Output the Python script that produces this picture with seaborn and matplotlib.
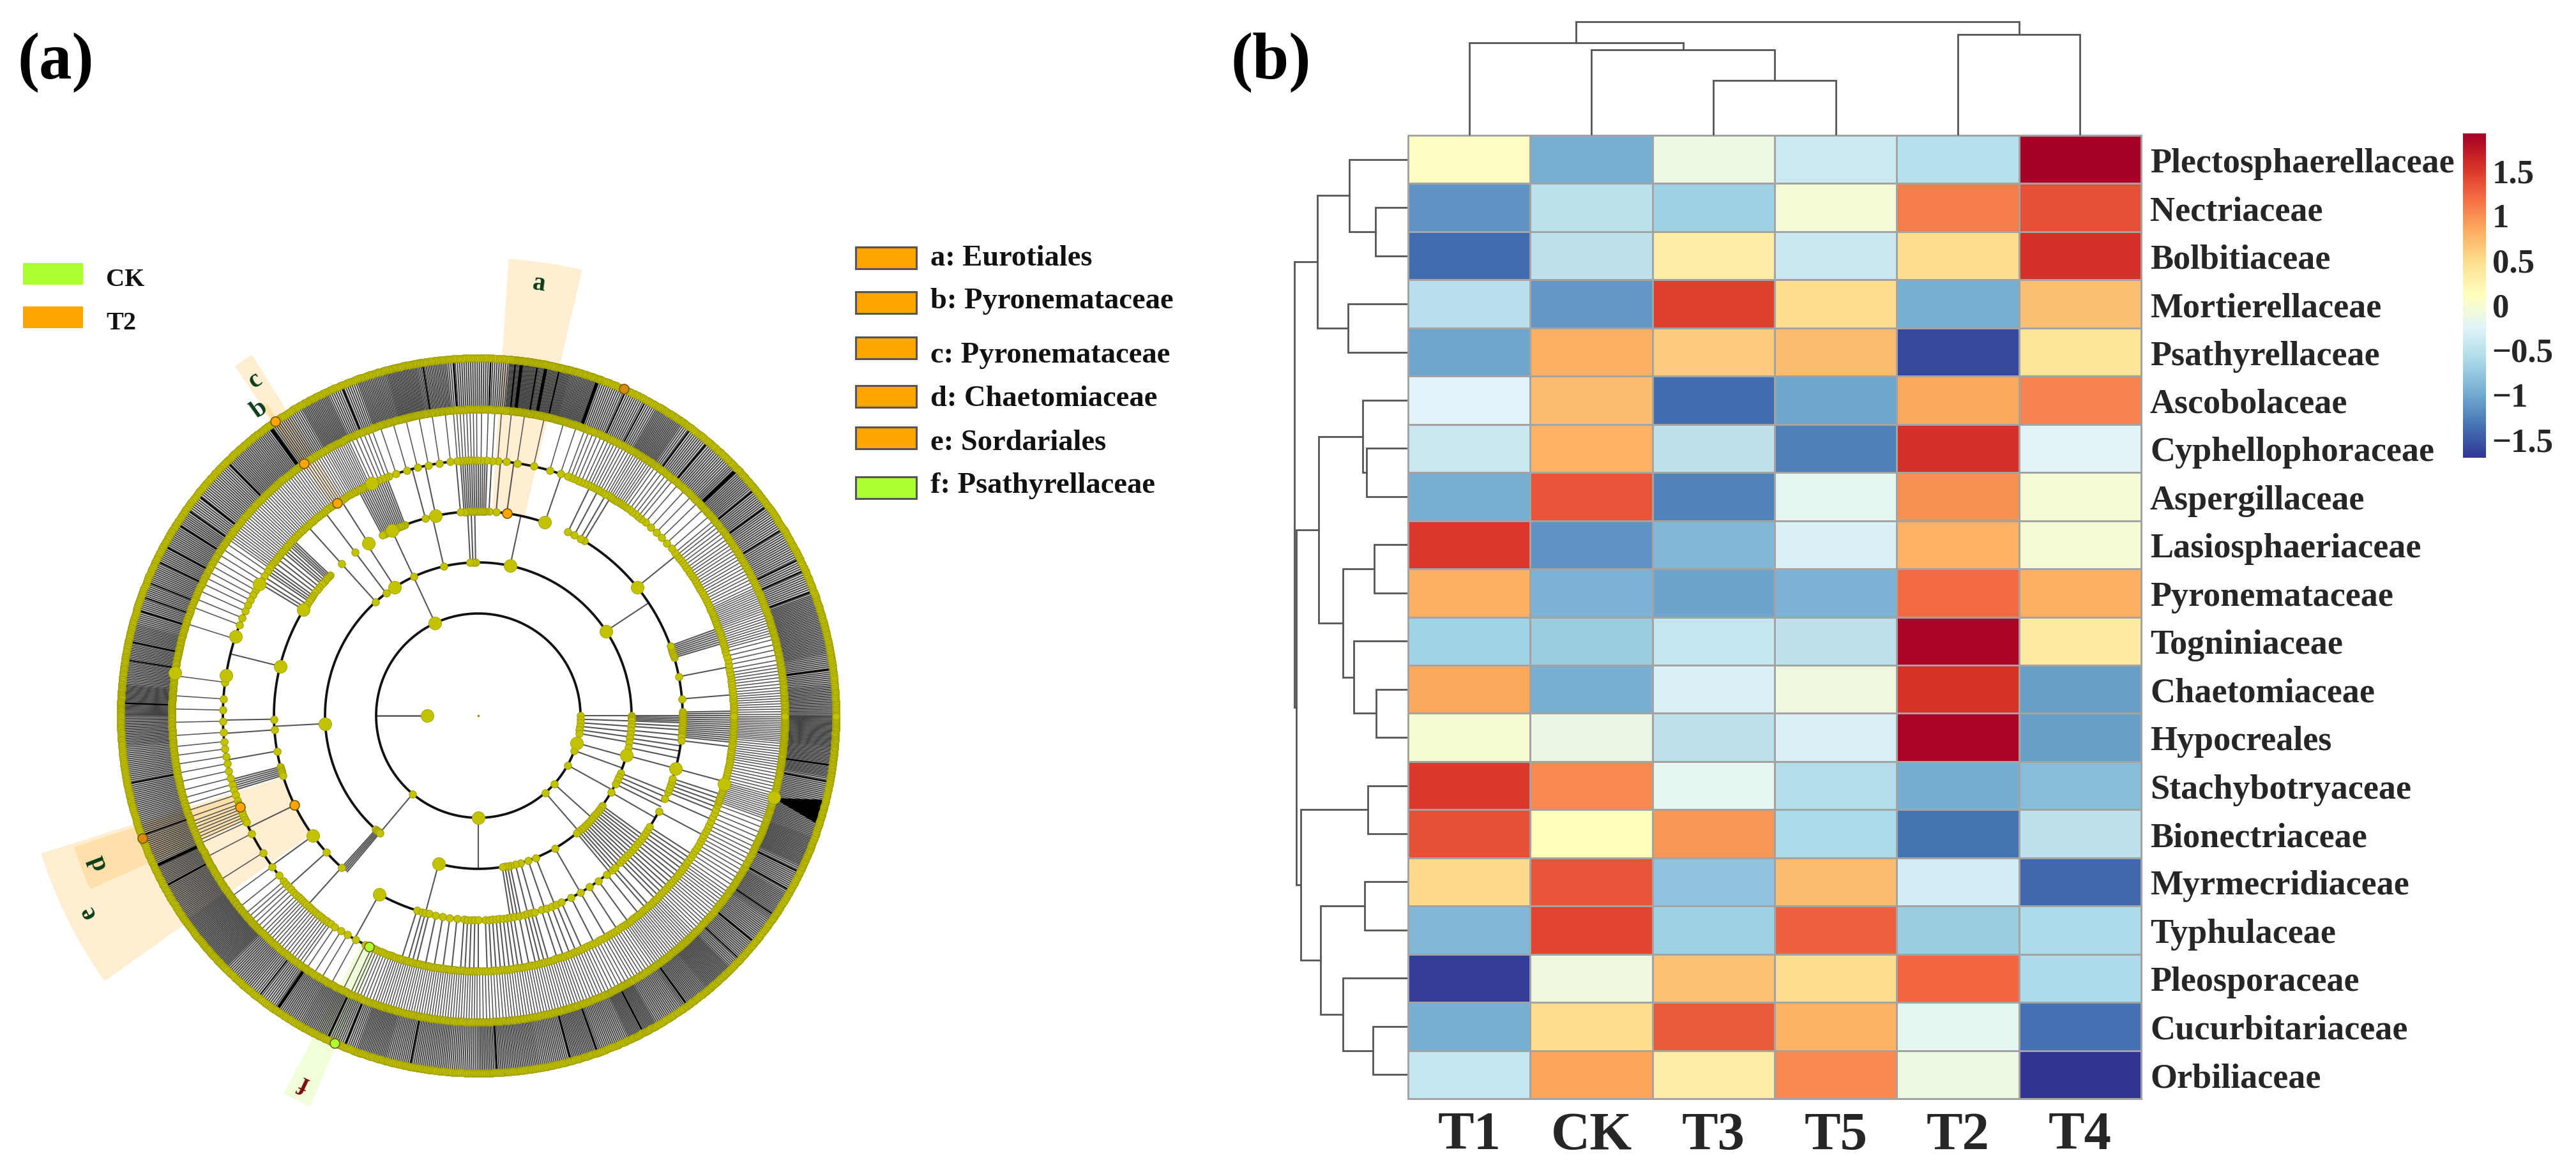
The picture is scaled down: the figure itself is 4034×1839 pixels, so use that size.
import numpy as np
import pandas as pd
import seaborn as sns
import matplotlib
matplotlib.use("Agg")
import matplotlib.pyplot as plt
from matplotlib.patches import Wedge, Rectangle, Polygon

W, H = 4034, 1840

# ---- panel b data
samples = ["T1", "CK", "T3", "T5", "T2", "T4"]
families = ["Plectosphaerellaceae", "Nectriaceae", "Bolbitiaceae", "Mortierellaceae", "Psathyrellaceae",
            "Ascobolaceae", "Cyphellophoraceae", "Aspergillaceae", "Lasiosphaeriaceae", "Pyronemataceae",
            "Togniniaceae", "Chaetomiaceae", "Hypocreales", "Stachybotryaceae", "Bionectriaceae",
            "Myrmecridiaceae", "Typhulaceae", "Pleosporaceae", "Cucurbitariaceae", "Orbiliaceae"]
t1 = [0.08, -1.15, -1.40, -0.53, -1.02, -0.26, -0.42, -0.97, 1.50, 0.82, -0.67, 0.85, 0.00, 1.49, 1.35, 0.50, -0.90, -1.66, -0.97, -0.45]
ck = [-0.97, -0.52, -0.50, -1.13, 0.82, 0.72, 0.80, 1.33, -1.15, -0.93, -0.73, -0.97, -0.13, 1.03, 0.12, 1.33, 1.42, -0.10, 0.47, 0.87]
t3 = [-0.12, -0.68, 0.30, 1.45, 0.62, -1.40, -0.50, -1.25, -0.90, -1.04, -0.45, -0.30, -0.50, -0.20, 0.96, -0.80, -0.68, 0.68, 1.30, 0.30]
t5 = [-0.40, -0.05, -0.42, 0.48, 0.73, -1.02, -1.28, -0.20, -0.30, -0.93, -0.50, -0.10, -0.30, -0.57, -0.62, 0.72, 1.25, 0.47, 0.78, 1.03]
t2 = [-0.55, 1.10, 0.48, -0.97, -1.60, 0.85, 1.55, 0.98, 0.80, 1.20, 1.88, 1.53, 1.88, -0.98, -1.35, -0.35, -0.73, 1.22, -0.20, -0.12]
t4 = [1.90, 1.35, 1.55, 0.70, 0.42, 1.05, -0.25, -0.03, -0.02, 0.82, 0.33, -1.07, -1.07, -0.85, -0.50, -1.42, -0.60, -0.60, -1.36, -1.71]
cbar_ticks = [1.5, 1, 0.5, 0, -0.5, -1, -1.5]
cbar_labels = ["1.5", "1", "0.5", "0", "\u22120.5", "\u22121", "\u22121.5"]

# dendrogram merges: (child, child, height), new ids continue after the leaves
row_merges = [(1, 2, 50), (0, 20, 91), (3, 4, 93), (21, 22, 141), (6, 7, 64), (5, 24, 70), (8, 9, 52),
              (11, 12, 49), (10, 27, 84), (26, 28, 101), (25, 29, 139), (13, 14, 62), (15, 16, 67),
              (18, 19, 54), (17, 33, 101), (32, 34, 136), (31, 35, 167), (30, 36, 174), (23, 37, 177)]
col_merges = [(2, 3, 86), (1, 6, 134), (0, 7, 145), (4, 5, 158), (8, 9, 178)]

# ---- panel a data: node angles (degrees) per ring of the cladogram
ring_160 = [115, 0, -2, -4, -6, -8, -10, -15.5, -20, -29, -42, -49, -90, 230]
ring_240 = [0, -0.5, -1, -1.5, -2, -3, -4, -5.5, -7, -8.5, -10, -12, -15, -22, -23.5, -25, -26.5, -30,
            -36, -37, -38, -39, -40, -41, -42, -43, -44, -45, -46, -47, -48, -49, -50, -60,
            -68, -71, -74, -76, -78, -79, -80, -81, 255, 228, 228.5, 229, 229.5, 230, 183,
            132, 127, 123, 115, 103, 91, 92, 93, 78, 33.5]
ring_320 = [1, 0.5, 0, -0.5, -1, -1.5, -2, -2.5, -3, -3.5, -4, -4.5, -5, -5.5, -6, -7, 4.7, 11,
            16.5, 17, 17.5, 18, 18.5, 19, 19.5, 20, 39, 58.8, 60, 62, 64, 71, 82, 85, 87,
            88, 88.5, 89, 89.5, 90, 90.5, 91, 91.5, 92, 92.5, 93, 93.5, 94, 95, 102, 105,
            111, 111.5, 112, 112.5, 113, 113.5, 114, 114.5, 115, 115.5, 116, 116.5, 117, 117.5, 118,
            122.5, 127, 132, 136.5, 137, 137.5, 138, 138.7, 139.4, 140, 141, 142, 143, 144, 144.7, 145.4, 146, 147, 148, 148.8,
            166, 181, 184, 190, 194.5, 195, 195.5, 196, 196.5, 197, 206, 216, 222, 228, 241,
            252.5, 254, 255, 256, 258, 260, 262, 264, 266, 267, 268, 269, 270, 272, 273, 274, 275,
            276, 277, 278, 279, 280, 281.5, 283, 284, 285, 286, 288, 289.5, 291, 292.5, 294,
            297, 300, 303, 306, 309, 311, 312, 314, 315, 316, 317, 318, 319, 320, 321, 322, 323, 324, 325, 326, 327,
            332, 336, 338, 339, 340, 341, 342, 345]
# spokes counted per 5 degree sector, going counter clockwise from east
count_400 = [10, 8, 5, 10, 12, 8, 8, 7, 3, 3, 6, 10, 8, 6, 2, 1, 2, 4, 8, 2, 2, 2, 6, 12, 10, 10, 10, 10, 10,
             4, 4, 3, 1, 0, 1, 2, 2, 3, 3, 4, 8, 1, 1, 2, 6, 8, 8, 3, 2, 8, 10, 10, 10, 10, 8, 9, 9, 9, 8, 7,
             8, 10, 10, 8, 8, 6, 6, 5, 12, 8, 10, 14]
count_480 = [18, 16, 18, 18, 14, 14, 14, 15, 16, 14, 14, 18, 14, 14, 20, 22, 24, 14, 14, 18, 20, 18, 14, 18,
             14, 16, 16, 14, 14, 16, 16, 16, 16, 18, 18, 22, 18, 16, 16, 16, 16, 18, 18, 20, 20, 15, 14, 16,
             17, 15, 18, 16, 16, 15, 17, 17, 16, 18, 16, 20, 16, 18, 20, 16, 16, 18, 16, 20, 18, 16, 20, 22]
# darker streaks of the outer band
dark_480 = [7.5, 20.4, 24, 26, 31.5, 36, 39.3, 50, 53.5, 62, 65.6, 76.8, 80.4, 84, 88, 94, 99, 112.5,
            134.7, 141.8, 144.7, 147.5, 151.6, 154.3, 158, 160.5, 162.8, 168, 171, 178, 191, 199.6, 208.6, 232,
            245, 248, 259, 273, 285, 289.5, 297.5, 305.8, 317, 320.6, 326, 330.7, 334, 349.3, 352]
thick_480 = [43.6, 70.4, 205, 235.6, 125.8, 79, 83]
big_nodes = {80: [180], 160: [115, -15.5, -90], 240: [-15, 183, 78, 33.5, 255, 123],
             320: [39, 71, 102, 115, 122.5, 148.8, 166, 216, 241, -15],
             400: [-15.5, 171, 162, 149, 114.6], 480: [-15.5, 172]}
# arcs (start, end) in degrees per ring, gaps are where the tree has no branch
arcs = {160: [(0, 360)], 240: [(254, 588)], 320: [(241, 332), (336, 419), (71, 118), (136.5, 228)],
        400: [(-12, 230), (231.5, 296), (297, 339)], 480: [(0, 360)], 560: [(0, 360)]}
# (first angle, last angle, inner radius, outer radius, colour)
shades = [(76.9, 86.2, 320, 717, "#ffa500"), (122.1, 124.9, 400, 667, "#ffa500"), (124.1, 125.2, 480, 590, "#ffa500"),
          (198, 204.1, 400, 666, "#ffa500"), (197.5, 215.4, 320, 718, "#ffa500"), (242.8, 246.7, 400, 666, "#adff2f")]
marked = [(320, 82, "#ffa500"), (560, 124.6, "#ffa500"), (480, 124.6, "#ffa500"), (400, 123.6, "#ffa500"),
          (560, 66, "#d98a10"), (400, 201, "#ffa500"), (320, 206, "#ffa500"), (560, 200, "#d98a10"),
          (400, 244.7, "#adff2f"), (560, 246.3, "#adff2f")]
# letter, radius, angle, colour
wedge_letters = [("a", 684, 82, "#0b3d1a"), ("b", 590, 125.5, "#0b3d1a"), ("c", 631, 123.6, "#0b3d1a"),
                 ("d", 638, 201, "#0b3d1a"), ("e", 684, 206.7, "#0b3d1a"), ("f", 636, 244.6, "#7a1010")]
legend_groups = [("CK", "#adff2f"), ("T2", "#ffa500")]
legend_taxa = [("a: Eurotiales", "#ffa500"), ("b: Pyronemataceae", "#ffa500"), ("c: Pyronemataceae", "#ffa500"),
               ("d: Chaetomiaceae", "#ffa500"), ("e: Sordariales", "#ffa500"), ("f: Psathyrellaceae", "#adff2f")]

sns.set_style("white")
plt.rcParams["font.family"] = ["Liberation Serif", "DejaVu Serif"]
plt.rcParams["font.weight"] = "bold"

fig = plt.figure(figsize=(W / 100, H / 100), dpi=100)


def add_ax(x0, y0, x1, y1):
    # pixel box (top left origin) to a figure axes
    return fig.add_axes([x0 / W, 1 - y1 / H, (x1 - x0) / W, (y1 - y0) / H])


def draw_tree(ax, merges, n, vertical):
    pos = {i: (i + 0.5, 0) for i in range(n)}
    for k, (a, b, h) in enumerate(merges):
        pa, ha = pos[a]
        pb, hb = pos[b]
        xs, ys = [pa, pa, pb, pb], [ha, h, h, hb]
        if vertical:
            ax.plot(xs, ys, color="#555555", lw=2.0, solid_joinstyle="miter")
        else:
            ax.plot(ys, xs, color="#555555", lw=2.0, solid_joinstyle="miter")
        pos[n + k] = ((pa + pb) / 2, h)


# ---- panel a: full figure axes in pixels
ax0 = fig.add_axes([0, 0, 1, 1])
ax0.set_xlim(0, W)
ax0.set_ylim(0, H)
ax0.axis("off")
cx, cy = 749, H - 1122


def polar(r, a):
    a = np.radians(a)
    return cx + r * np.cos(a), cy + r * np.sin(a)


def expand(counts):
    out = []
    for i, c in enumerate(counts):
        for j in range(c):
            out.append(i * 5 + (j + 0.5) * 5 / c)
    return out


rings = {80: [180], 160: ring_160, 240: ring_240, 320: ring_320, 400: expand(count_400), 480: expand(count_480),
         560: expand(count_480)}
spoke_width = {80: 1.8, 160: 1.5, 240: 1.5, 320: 1.5, 400: 1.15, 480: 1.5}
spoke_colour = {80: "#555555", 160: "#555555", 240: "#555555", 320: "#555555", 400: "#555555", 480: "#444444"}

for a0, a1, r0, r1, c in shades:
    ax0.add_patch(Wedge((cx, cy), r1, a0, a1, width=r1 - r0, fc=c, ec="none", alpha=0.18, zorder=1))

for r, angles in rings.items():
    if r == 560:
        continue
    for a in angles:
        x, y = polar(np.array([r, r + 80]), a)
        ax0.plot(x, y, color=spoke_colour[r], lw=spoke_width[r], zorder=2, solid_capstyle="butt")
for a in dark_480:
    x, y = polar(np.array([480, 560]), a)
    ax0.plot(x, y, color="black", lw=1.6, zorder=2.2, solid_capstyle="butt")
for a in thick_480:
    x, y = polar(np.array([480, 560]), a)
    ax0.plot(x, y, color="black", lw=3.6, zorder=2.2, solid_capstyle="butt")

# black fan behind the big node near -15 degrees
fan = [polar(480, -15.6), polar(556, -13.7), polar(556, -17.7)]
ax0.add_patch(Polygon(fan, fc="black", ec="none", zorder=2.3))

for r, pieces in arcs.items():
    for a0, a1 in pieces:
        t = np.arange(a0, a1 + 0.25, 0.25)
        x, y = polar(r, t)
        ax0.plot(x, y, color="#111111" if r < 480 else "#8f8f00", lw=2.7, zorder=3)

for r, angles in rings.items():
    x, y = polar(r, np.array(angles, dtype=float))
    ax0.scatter(x, y, s=(11.5 * 0.72) ** 2, c="#c2c200", edgecolors="#9a9a00", linewidths=0.7, zorder=4)
for r, angles in big_nodes.items():
    x, y = polar(r, np.array(angles, dtype=float))
    ax0.scatter(x, y, s=(20 * 0.72) ** 2, c="#c2c200", edgecolors="#a8a800", linewidths=0.7, zorder=4.5)
ax0.scatter(*polar(0, 0), s=3, c="#9a9a00", zorder=4)
for r, a, c in marked:
    x, y = polar(r, a)
    ax0.scatter(x, y, s=(15 * 0.72) ** 2, c=c, edgecolors="#7a5a00", linewidths=1.2, zorder=5)

for label, r, a, c in wedge_letters:
    x, y = polar(r, a)
    ax0.text(x, y, label, color=c, fontsize=29, ha="center", va="center", rotation=a - 90, zorder=6)

for (label, c), py in zip(legend_groups, [430, 498]):
    ax0.add_patch(Rectangle((36, H - py - 17), 94, 34, fc=c, ec="none"))
    ax0.text(166, H - py - 9, label, fontsize=29, va="center", color="#111111")
for (label, c), py, ty in zip(legend_taxa, [405, 475, 546, 622, 687, 765], [405, 472, 557, 625, 694, 761]):
    ax0.add_patch(Rectangle((1340, H - py - 17), 95, 34, fc=c, ec="#555555", lw=2.2))
    ax0.text(1457, H - ty, label, fontsize=33.5, va="center", color="#111111")

ax0.text(28, H - 98, "(a)", fontsize=74, va="center", color="black")
ax0.text(1928, H - 98, "(b)", fontsize=74, va="center", color="black")

# ---- panel b heatmap
df = pd.DataFrame({"T1": t1, "CK": ck, "T3": t3, "T5": t5, "T2": t2, "T4": t4}, index=families)[samples]
ax_hm = add_ax(2205, 213, 3353, 1722)
ax_cb = add_ax(3857, 210, 3893, 718)
sns.heatmap(df, ax=ax_hm, cbar_ax=ax_cb, cmap="RdYlBu_r", vmin=-1.71, vmax=1.91,
            linewidths=1.8, linecolor="#a3a3a3", clip_on=False)
ax_hm.yaxis.tick_right()
ax_hm.set_yticklabels(families, rotation=0, fontsize=39, fontweight="bold")
ax_hm.set_xticklabels(samples, rotation=0, fontsize=61, fontweight="bold")
ax_hm.tick_params(axis="y", length=0, pad=10)
ax_hm.tick_params(axis="x", length=0, pad=14)
ax_cb.set_yticks(cbar_ticks)
ax_cb.set_yticklabels(cbar_labels, fontsize=38, fontweight="bold")
ax_cb.tick_params(length=0, pad=7)
for s in ax_cb.spines.values():
    s.set_visible(False)

# ---- dendrograms
ax_top = add_ax(2205, 33, 3353, 213)
draw_tree(ax_top, col_merges, len(samples), True)
ax_top.set_xlim(0, len(samples))
ax_top.set_ylim(0, 180)
ax_top.axis("off")

ax_left = add_ax(2024, 213, 2204, 1722)
draw_tree(ax_left, row_merges, len(families), False)
ax_left.set_xlim(180, 0)
ax_left.set_ylim(len(families), 0)
ax_left.axis("off")

fig.savefig("out.png", dpi=100, facecolor="white")
